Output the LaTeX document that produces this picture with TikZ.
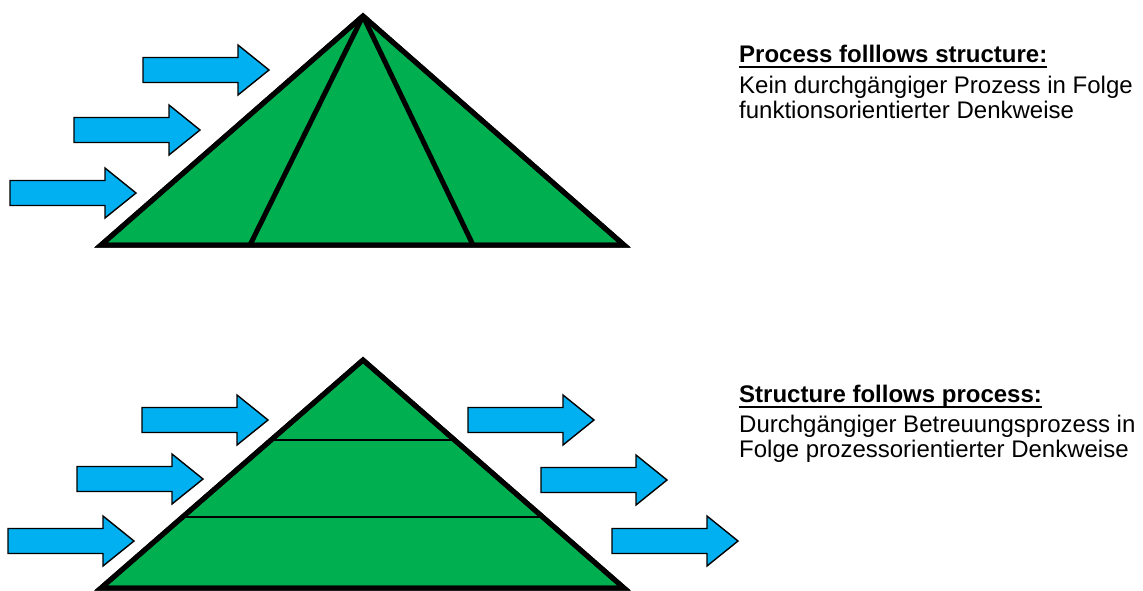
\documentclass[tikz,border=0pt]{standalone}
\usepackage{fontspec}
\usetikzlibrary{calc}
\setmainfont{Liberation Sans}
\definecolor{pyrgreen}{HTML}{00B050}
\definecolor{arrblue}{HTML}{00B0F0}
\newcommand\blockarrow[3]{% name, left x, centre y
  \draw[arrowshape] (#2,#3-12.5) -- ++(95,0) -- ++(0,-12.5) -- (#2+126,#3) -- (#2+95,#3+25) -- ++(0,-12.5) -- (#2,#3+12.5) -- cycle;
  \coordinate (#1) at (#2+126,#3);
}
\tikzset{
  arrowshape/.style={draw=black, fill=arrblue, line width=1.4pt, line join=miter},
  pyramid/.style={draw=black, fill=pyrgreen, line width=5pt, line join=miter, miter limit=10},
  thickdiv/.style={draw=black, line width=5pt},
  thindiv/.style={draw=black, line width=2pt},
  txt/.style={anchor=base west, inner sep=0pt, font=\fontsize{24}{28}\selectfont},
  uline/.style={draw=black, line width=2.4pt},
}
\begin{document}
\begin{tikzpicture}[x=1pt, y=-1pt]
\useasboundingbox (0,0) rectangle (1143,590);
% top pyramid
\coordinate (tA) at (363,16);
\coordinate (tL) at (101,245);
\coordinate (tR) at (624,245);
\coordinate (tB1) at (250,245);
\coordinate (tB2) at (473,245);
\path[pyramid] (tA) -- (tL) -- (tR) -- cycle;
\draw[thickdiv] (tA) -- (tB1);
\draw[thickdiv] (tA) -- (tB2);
\path[pyramid, fill=none] (tA) -- (tL) -- (tR) -- cycle;
% top arrows
\blockarrow{ta1}{143}{70}
\blockarrow{ta2}{74}{130}
\blockarrow{ta3}{10}{193}
% bottom pyramid
\coordinate (bA) at (363,360);
\coordinate (bL) at (101,588);
\coordinate (bR) at (624,588);
\path[pyramid] (bA) -- (bL) -- (bR) -- cycle;
\draw[thindiv] ($(bA)!0.353!(bL)$) -- ($(bA)!0.353!(bR)$);
\draw[thindiv] ($(bA)!0.69!(bL)$) -- ($(bA)!0.69!(bR)$);
\path[pyramid, fill=none] (bA) -- (bL) -- (bR) -- cycle;
% bottom arrows
\blockarrow{bl1}{142}{420}
\blockarrow{bl2}{77}{479}
\blockarrow{bl3}{8}{541}
\blockarrow{br1}{468}{420}
\blockarrow{br2}{541}{480}
\blockarrow{br3}{612}{541}
% texts
\node[txt] (t1) at (739,62) {\textbf{Process folllows structure:}};
\node[txt] (t2) at (739,93) {Kein durchgängiger Prozess in Folge};
\node[txt] (t3) at (739,118) {funktionsorientierter Denkweise};
\node[txt] (b1) at (739,402) {\textbf{Structure follows process:}};
\node[txt] (b2) at (739,432) {Durchgängiger Betreuungsprozess in};
\node[txt] (b3) at (739,457) {Folge prozessorientierter Denkweise};
\draw[uline] ([yshift=-5pt]t1.base west) -- ([yshift=-5pt]t1.base east);
\draw[uline] ([yshift=-5pt]b1.base west) -- ([yshift=-5pt]b1.base east);
\end{tikzpicture}
\end{document}
